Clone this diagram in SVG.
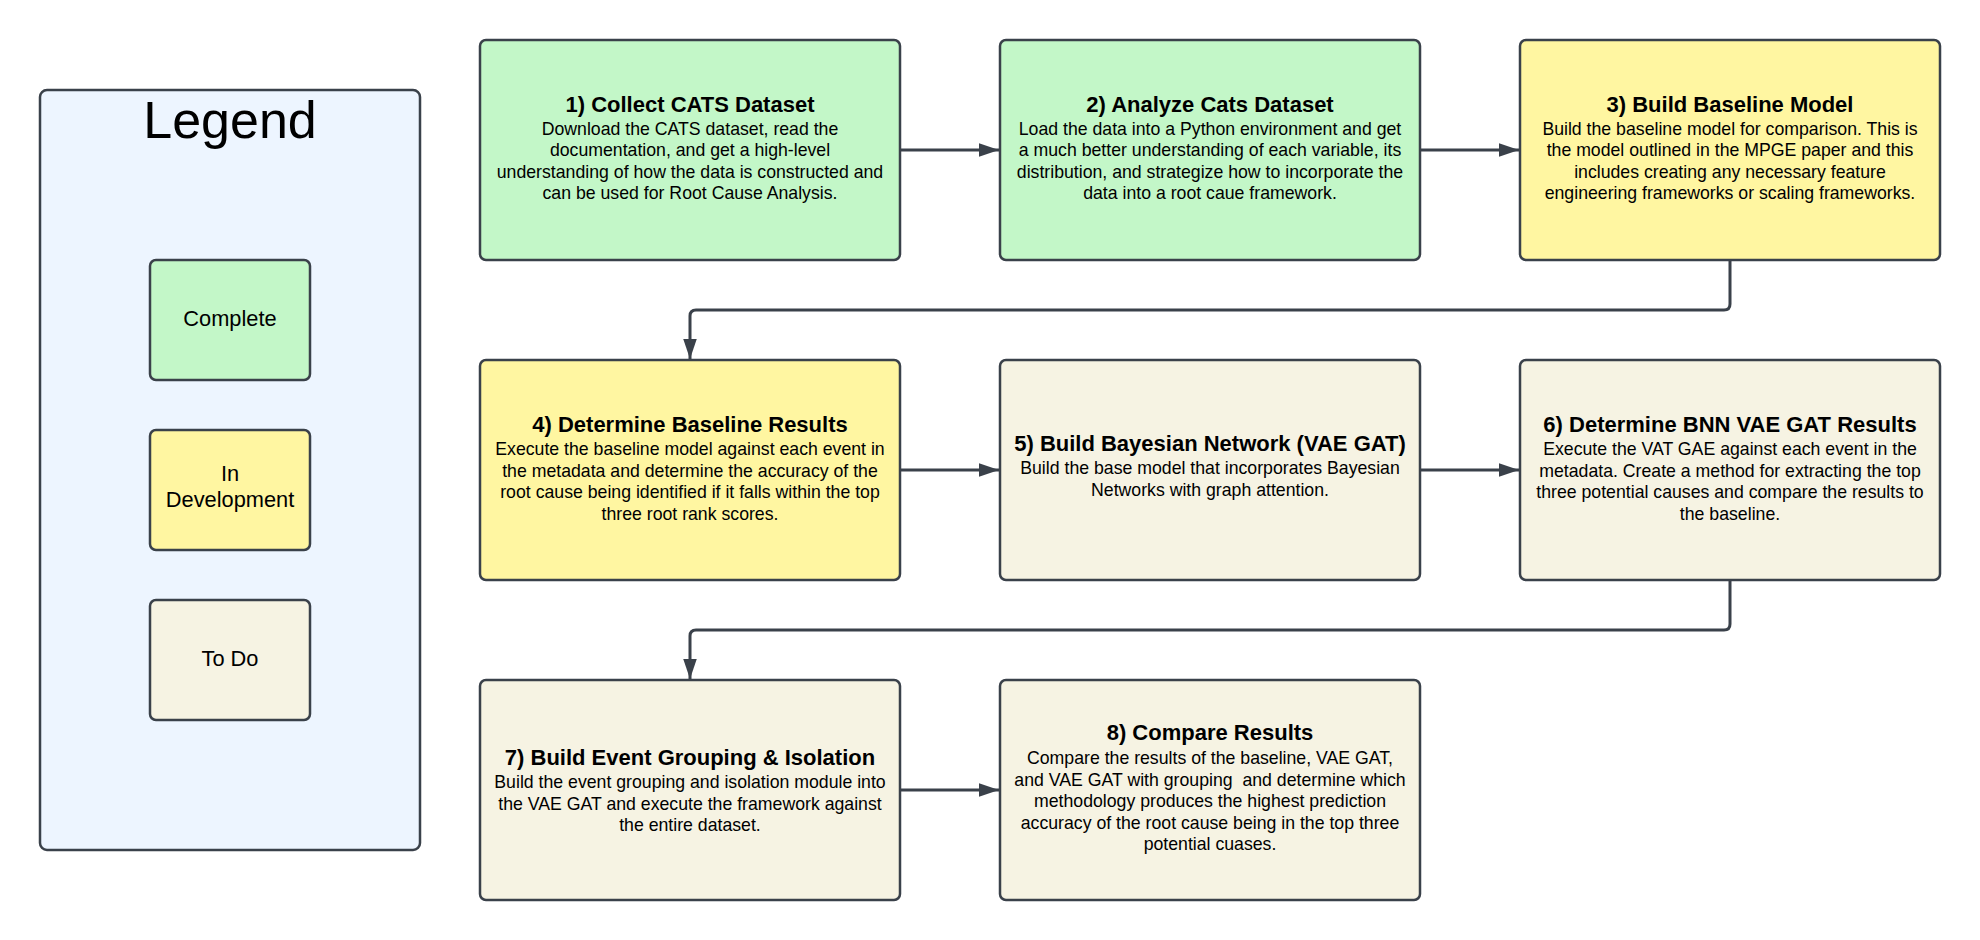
<svg xmlns="http://www.w3.org/2000/svg" width="1980" height="940" viewBox="0 0 1980 940">
<style>
.box{stroke:#3a414a;stroke-width:2.5}
.green{fill:#c3f7c8}
.yellow{fill:#fff6a1}
.todo{fill:#f6f3e3}
.legend{fill:#edf5ff}
text{font-family:"Liberation Sans",Arial,Helvetica,sans-serif;fill:#000;text-anchor:middle}
.t{font-size:22px;font-weight:bold}
.d{font-size:17.7px;white-space:pre}
.l{font-size:21.8px}
.conn{fill:none;stroke:#3a414a;stroke-width:3}
</style>
<defs>
<marker id="arr" markerUnits="userSpaceOnUse" markerWidth="21" markerHeight="14" refX="20" refY="6.75" orient="auto">
<path d="M0,0 L20,6.75 L0,13.5 Z" fill="#3a414a"/>
</marker>
</defs>
<rect width="1980" height="940" fill="#ffffff"/>
<g id="legend">
<rect class="box legend" x="40" y="90" width="380" height="760" rx="7"/>
<text x="230" y="138" style="font-size:52px">Legend</text>
<g id="legend-complete">
<rect class="box green" x="150" y="260" width="160" height="120" rx="6"/>
<text class="l" x="230" y="326">Complete</text>
</g>
<g id="legend-indev">
<rect class="box yellow" x="150" y="430" width="160" height="120" rx="6"/>
<text class="l" x="230" y="481">In</text>
<text class="l" x="230" y="507">Development</text>
</g>
<g id="legend-todo">
<rect class="box todo" x="150" y="600" width="160" height="120" rx="6"/>
<text class="l" x="230" y="666">To Do</text>
</g>
</g>
<g id="connectors">
<path class="conn" d="M900,150 H999" marker-end="url(#arr)"/>
<path class="conn" d="M1420,150 H1519" marker-end="url(#arr)"/>
<path class="conn" d="M1730,260 V304 Q1730,310 1724,310 H696 Q690,310 690,316 V359" marker-end="url(#arr)"/>
<path class="conn" d="M900,470 H999" marker-end="url(#arr)"/>
<path class="conn" d="M1420,470 H1519" marker-end="url(#arr)"/>
<path class="conn" d="M1730,580 V624 Q1730,630 1724,630 H696 Q690,630 690,636 V679" marker-end="url(#arr)"/>
<path class="conn" d="M900,790 H999" marker-end="url(#arr)"/>
</g>
<g id="node1">
<rect class="box green" x="480" y="40" width="420" height="220" rx="6"/>
<text class="t" x="690" y="112">1) Collect CATS Dataset</text>
<text class="d" x="690" y="134.5">Download the CATS dataset, read the</text>
<text class="d" x="690" y="156">documentation, and get a high-level</text>
<text class="d" x="690" y="177.5">understanding of how the data is constructed and</text>
<text class="d" x="690" y="199">can be used for Root Cause Analysis.</text>
</g>
<g id="node2">
<rect class="box green" x="1000" y="40" width="420" height="220" rx="6"/>
<text class="t" x="1210" y="112">2) Analyze Cats Dataset</text>
<text class="d" x="1210" y="134.5">Load the data into a Python environment and get</text>
<text class="d" x="1210" y="156">a much better understanding of each variable, its</text>
<text class="d" x="1210" y="177.5">distribution, and strategize how to incorporate the</text>
<text class="d" x="1210" y="199">data into a root caue framework.</text>
</g>
<g id="node3">
<rect class="box yellow" x="1520" y="40" width="420" height="220" rx="6"/>
<text class="t" x="1730" y="112">3) Build Baseline Model</text>
<text class="d" x="1730" y="134.5">Build the baseline model for comparison. This is</text>
<text class="d" x="1730" y="156">the model outlined in the MPGE paper and this</text>
<text class="d" x="1730" y="177.5">includes creating any necessary feature</text>
<text class="d" x="1730" y="199">engineering frameworks or scaling frameworks.</text>
</g>
<g id="node4">
<rect class="box yellow" x="480" y="360" width="420" height="220" rx="6"/>
<text class="t" x="690" y="432">4) Determine Baseline Results</text>
<text class="d" x="690" y="455">Execute the baseline model against each event in</text>
<text class="d" x="690" y="476.5">the metadata and determine the accuracy of the</text>
<text class="d" x="690" y="498">root cause being identified if it falls within the top</text>
<text class="d" x="690" y="519.5">three root rank scores.</text>
</g>
<g id="node5">
<rect class="box todo" x="1000" y="360" width="420" height="220" rx="6"/>
<text class="t" x="1210" y="451">5) Build Bayesian Network (VAE GAT)</text>
<text class="d" x="1210" y="474">Build the base model that incorporates Bayesian</text>
<text class="d" x="1210" y="495.5">Networks with graph attention.</text>
</g>
<g id="node6">
<rect class="box todo" x="1520" y="360" width="420" height="220" rx="6"/>
<text class="t" x="1730" y="432">6) Determine BNN VAE GAT Results</text>
<text class="d" x="1730" y="455">Execute the VAT GAE against each event in the</text>
<text class="d" x="1730" y="476.5">metadata. Create a method for extracting the top</text>
<text class="d" x="1730" y="498">three potential causes and compare the results to</text>
<text class="d" x="1730" y="519.5">the baseline.</text>
</g>
<g id="node7">
<rect class="box todo" x="480" y="680" width="420" height="220" rx="6"/>
<text class="t" x="690" y="764.5">7) Build Event Grouping &amp; Isolation</text>
<text class="d" x="690" y="788">Build the event grouping and isolation module into</text>
<text class="d" x="690" y="809.5">the VAE GAT and execute the framework against</text>
<text class="d" x="690" y="831">the entire dataset.</text>
</g>
<g id="node8">
<rect class="box todo" x="1000" y="680" width="420" height="220" rx="6"/>
<text class="t" x="1210" y="740">8) Compare Results</text>
<text class="d" x="1210" y="764">Compare the results of the baseline, VAE GAT,</text>
<text class="d" x="1210" y="785.5">and VAE GAT with grouping  and determine which</text>
<text class="d" x="1210" y="807">methodology produces the highest prediction</text>
<text class="d" x="1210" y="828.5">accuracy of the root cause being in the top three</text>
<text class="d" x="1210" y="850">potential cuases.</text>
</g>
</svg>
